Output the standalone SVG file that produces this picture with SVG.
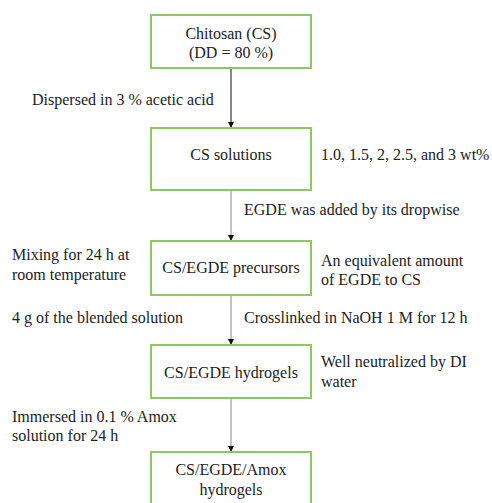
<svg xmlns="http://www.w3.org/2000/svg" width="492" height="503" viewBox="0 0 492 503">
<defs>
<style>
.box{fill:#fff;stroke:#8cc964;stroke-width:2}
.c{text-anchor:middle}
.ln{stroke:#999;stroke-width:1.2;fill:none}
.ln1{stroke:#444;stroke-width:1.3;fill:none}
</style>
<marker id="ah" viewBox="0 0 10 10" refX="10" refY="5" markerWidth="6" markerHeight="6" markerUnits="userSpaceOnUse" orient="auto">
<path d="M0,0 L10,5 L0,10 Z" fill="#111"/>
</marker>
</defs>
<rect width="492" height="503" fill="#fff"/>
<g font-family="Liberation Serif, Times New Roman, Tinos, DejaVu Serif, serif" font-size="16" fill="#222">
<g id="connectors">
<line class="ln1" x1="231" y1="68" x2="231" y2="128" marker-end="url(#ah)"/>
<line class="ln" x1="231" y1="190" x2="231" y2="241" marker-end="url(#ah)"/>
<line class="ln" x1="231" y1="295" x2="231" y2="345" marker-end="url(#ah)"/>
<line class="ln" x1="231" y1="398" x2="231" y2="452" marker-end="url(#ah)"/>
</g>
<g id="n1">
<rect class="box" x="151" y="15" width="160" height="53"/>
<text class="c" x="231" y="39">Chitosan (CS)</text>
<text class="c" x="231" y="58">(DD = 80 %)</text>
</g>
<g id="n2">
<rect class="box" x="151" y="128" width="160" height="62"/>
<text class="c" x="231" y="160">CS solutions</text>
</g>
<g id="n3">
<rect class="box" x="151" y="241" width="160" height="54"/>
<text class="c" x="231" y="273">CS/EGDE precursors</text>
</g>
<g id="n4">
<rect class="box" x="151" y="345" width="160" height="53"/>
<text class="c" x="231" y="378">CS/EGDE hydrogels</text>
</g>
<g id="n5">
<rect class="box" x="151" y="452" width="160" height="60"/>
<text class="c" x="231" y="475">CS/EGDE/Amox</text>
<text class="c" x="231" y="495">hydrogels</text>
</g>
<g id="labels">
<text x="32" y="105">Dispersed in 3 % acetic acid</text>
<text x="321" y="160">1.0, 1.5, 2, 2.5, and 3 wt%</text>
<text x="244" y="215">EGDE was added by its dropwise</text>
<text x="12" y="260">Mixing for 24 h at</text>
<text x="12" y="280">room temperature</text>
<text x="321" y="266">An equivalent amount</text>
<text x="321" y="285">of EGDE to CS</text>
<text x="12" y="323">4 g of the blended solution</text>
<text x="244" y="323">Crosslinked in NaOH 1 M for 12 h</text>
<text x="321" y="367">Well neutralized by DI</text>
<text x="321" y="387">water</text>
<text x="12" y="422">Immersed in 0.1 % Amox</text>
<text x="12" y="441">solution for 24 h</text>
</g>
</g>
</svg>
